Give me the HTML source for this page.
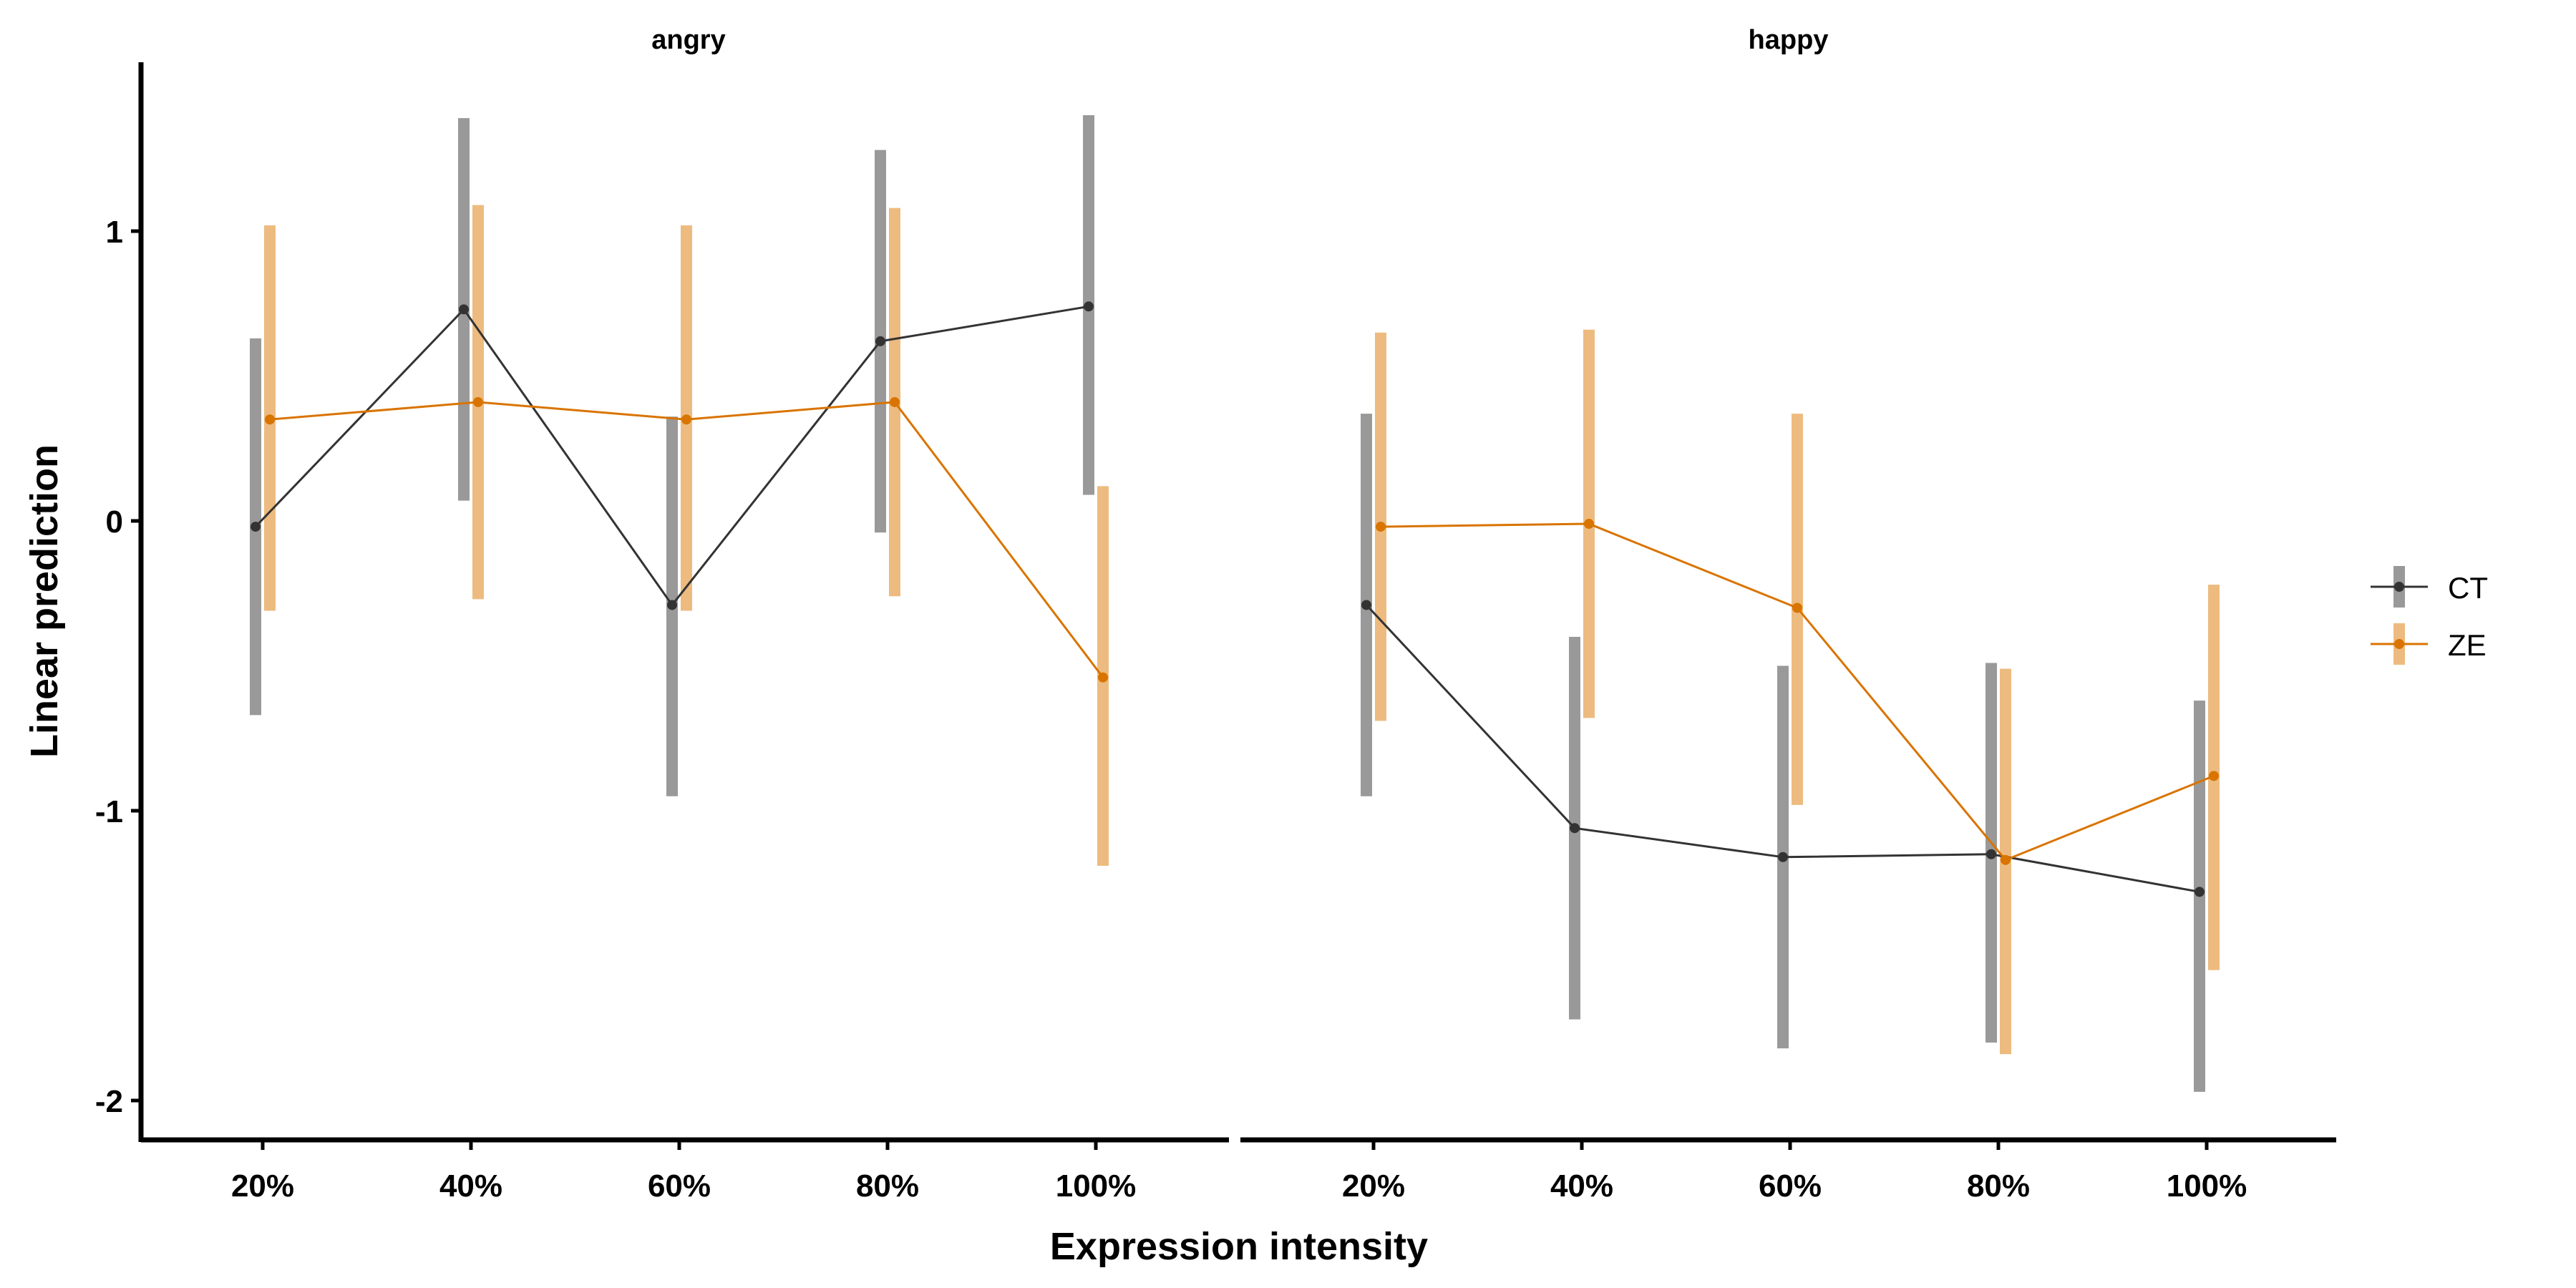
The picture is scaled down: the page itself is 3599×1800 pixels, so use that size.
<!DOCTYPE html>
<html><head><meta charset="utf-8"><style>
html,body{margin:0;padding:0;background:#fff;}
svg{display:block;font-family:"Liberation Sans",Arial,sans-serif;}
</style></head><body>
<svg id="chart" width="3599" height="1800" viewBox="0 0 3599 1800" xmlns="http://www.w3.org/2000/svg"></svg>
<script>
const categories = ["20%","40%","60%","80%","100%"];
const panels = ["angry","happy"];
const yTicks = [1,0,-1,-2];
const yTickLabels = ["1","0","-1","-2"];
const angryCT = [-0.02,0.73,-0.29,0.62,0.74];
const angryCTlo = [-0.67,0.07,-0.95,-0.04,0.09];
const angryCThi = [0.63,1.39,0.36,1.28,1.40];
const angryZE = [0.35,0.41,0.35,0.41,-0.54];
const angryZElo = [-0.31,-0.27,-0.31,-0.26,-1.19];
const angryZEhi = [1.02,1.09,1.02,1.08,0.12];
const happyCT = [-0.29,-1.06,-1.16,-1.15,-1.28];
const happyCTlo = [-0.95,-1.72,-1.82,-1.80,-1.97];
const happyCThi = [0.37,-0.40,-0.50,-0.49,-0.62];
const happyZE = [-0.02,-0.01,-0.30,-1.17,-0.88];
const happyZElo = [-0.69,-0.68,-0.98,-1.84,-1.55];
const happyZEhi = [0.65,0.66,0.37,-0.51,-0.22];

const NS="http://www.w3.org/2000/svg";
const svg=document.getElementById('chart');
function mk(tag,attrs,parent){const e=document.createElementNS(NS,tag);for(const k in attrs)e.setAttribute(k,attrs[k]);(parent||svg).appendChild(e);return e;}
const y0=728, unit=405;
function yScale(v){return y0-v*unit;}
const panelX=[{x0:197,x1:1717,c0:367},{x0:1733,x1:3264,c0:1919}];
const step=291;
function xScale(p,i){return panelX[p].c0+i*step;}
const series=[
 {name:"CT",bar:"#999999",line:"#333333",dx:-10,data:[[angryCT,angryCTlo,angryCThi],[happyCT,happyCTlo,happyCThi]]},
 {name:"ZE",bar:"#EDBB80",line:"#D97400",dx:10,data:[[angryZE,angryZElo,angryZEhi],[happyZE,happyZElo,happyZEhi]]}
];
const axisY=1593;
panels.forEach((pn,p)=>{
  const g=mk('g',{});
  
  
  const st=mk('text',{x:(panelX[p].x0+panelX[p].x1)/2+(p?0:5),y:68,'text-anchor':'middle','font-size':38,'font-weight':'bold'},g);
  st.textContent=pn;
  
  
  const xa=mk('line',{x1:panelX[p].x0,x2:panelX[p].x1,y1:axisY,y2:axisY,stroke:'#000','stroke-width':7},g);
  
  
  categories.forEach((c,i)=>{
    const x=xScale(p,i);
    mk('line',{x1:x,x2:x,y1:axisY,y2:axisY+14,stroke:'#000','stroke-width':5},g);
    const t=mk('text',{x:x,y:1672,'text-anchor':'middle','font-size':44,'font-weight':'bold'},g);
    t.textContent=c;
    
    
  });
  series.forEach(s=>{
    const [m,lo,hi]=s.data[p];
    m.forEach((v,i)=>{
      const x=xScale(p,i)+s.dx;
      const b=mk('rect',{x:x-8,y:yScale(hi[i]),width:16,height:yScale(lo[i])-yScale(hi[i]),fill:s.bar},g);
      
      
    });
  });
  series.forEach(s=>{
    const [m]=s.data[p];
    const pts=m.map((v,i)=>(xScale(p,i)+s.dx)+','+yScale(v)).join(' ');
    const l=mk('polyline',{points:pts,fill:'none',stroke:s.line,'stroke-width':3},g);
    
    
    m.forEach((v,i)=>{
      const c=mk('circle',{cx:xScale(p,i)+s.dx,cy:yScale(v),r:7,fill:s.line},g);
      
      
    });
  });
});
const ya=mk('line',{x1:197,x2:197,y1:87,y2:1596,stroke:'#000','stroke-width':7});


yTicks.forEach((v,i)=>{
  mk('line',{x1:183,x2:197,y1:yScale(v),y2:yScale(v),stroke:'#000','stroke-width':5});
  const t=mk('text',{x:172,y:yScale(v)+16,'text-anchor':'end','font-size':44,'font-weight':'bold'});
  t.textContent=yTickLabels[i];
  
  
});
const xt=mk('text',{x:1731,y:1760,'text-anchor':'middle','font-size':54,'font-weight':'bold'});
xt.textContent='Expression intensity';


const yt=mk('text',{x:0,y:0,'text-anchor':'middle','font-size':54,'font-weight':'bold',transform:'translate(80,840) rotate(-90)'});
yt.textContent='Linear prediction';


const lg=mk('g',{});


series.forEach((s,i)=>{
  const cy=820+i*80;
  const e=mk('g',{},lg);
  
  
  mk('rect',{x:3344,y:cy-29,width:16,height:58,fill:s.bar},e);
  mk('line',{x1:3312,x2:3392,y1:cy,y2:cy,stroke:s.line,'stroke-width':3},e);
  mk('circle',{cx:3352,cy:cy,r:7,fill:s.line},e);
  const t=mk('text',{x:3420,y:cy+16,'font-size':42},e);
  t.textContent=s.name;
});
</script>
</body></html>
